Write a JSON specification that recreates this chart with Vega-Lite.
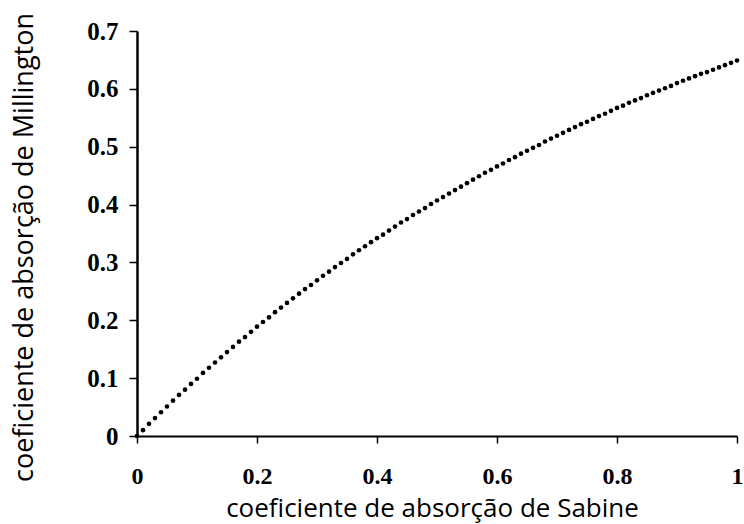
{
  "$schema": "https://vega.github.io/schema/vega-lite/v6.json",
  "autosize": {"type": "none"},
  "padding": {"left": 137, "top": 31, "right": 7, "bottom": 88},
  "width": 600,
  "height": 405,
  "background": "white",
  "config": {"view": {"stroke": null}},
  "data": {"values": [
    {"s": 0.00, "m": 0.000}, {"s": 0.01, "m": 0.010}, {"s": 0.02, "m": 0.021}, {"s": 0.03, "m": 0.031}, {"s": 0.04, "m": 0.041},
    {"s": 0.05, "m": 0.051}, {"s": 0.06, "m": 0.061}, {"s": 0.07, "m": 0.071}, {"s": 0.08, "m": 0.080}, {"s": 0.09, "m": 0.090},
    {"s": 0.10, "m": 0.099}, {"s": 0.11, "m": 0.109}, {"s": 0.12, "m": 0.118}, {"s": 0.13, "m": 0.127}, {"s": 0.14, "m": 0.136},
    {"s": 0.15, "m": 0.145}, {"s": 0.16, "m": 0.154}, {"s": 0.17, "m": 0.163}, {"s": 0.18, "m": 0.171}, {"s": 0.19, "m": 0.180},
    {"s": 0.20, "m": 0.189}, {"s": 0.21, "m": 0.197}, {"s": 0.22, "m": 0.205}, {"s": 0.23, "m": 0.214}, {"s": 0.24, "m": 0.222},
    {"s": 0.25, "m": 0.230}, {"s": 0.26, "m": 0.238}, {"s": 0.27, "m": 0.246}, {"s": 0.28, "m": 0.254}, {"s": 0.29, "m": 0.261},
    {"s": 0.30, "m": 0.269}, {"s": 0.31, "m": 0.277}, {"s": 0.32, "m": 0.284}, {"s": 0.33, "m": 0.292}, {"s": 0.34, "m": 0.299},
    {"s": 0.35, "m": 0.306}, {"s": 0.36, "m": 0.314}, {"s": 0.37, "m": 0.321}, {"s": 0.38, "m": 0.328}, {"s": 0.39, "m": 0.335},
    {"s": 0.40, "m": 0.342}, {"s": 0.41, "m": 0.348}, {"s": 0.42, "m": 0.355}, {"s": 0.43, "m": 0.362}, {"s": 0.44, "m": 0.369},
    {"s": 0.45, "m": 0.375}, {"s": 0.46, "m": 0.382}, {"s": 0.47, "m": 0.388}, {"s": 0.48, "m": 0.394}, {"s": 0.49, "m": 0.401},
    {"s": 0.50, "m": 0.407}, {"s": 0.51, "m": 0.413}, {"s": 0.52, "m": 0.419}, {"s": 0.53, "m": 0.425}, {"s": 0.54, "m": 0.431},
    {"s": 0.55, "m": 0.437}, {"s": 0.56, "m": 0.443}, {"s": 0.57, "m": 0.449}, {"s": 0.58, "m": 0.455}, {"s": 0.59, "m": 0.460},
    {"s": 0.60, "m": 0.466}, {"s": 0.61, "m": 0.471}, {"s": 0.62, "m": 0.477}, {"s": 0.63, "m": 0.482}, {"s": 0.64, "m": 0.488},
    {"s": 0.65, "m": 0.493}, {"s": 0.66, "m": 0.498}, {"s": 0.67, "m": 0.503}, {"s": 0.68, "m": 0.509}, {"s": 0.69, "m": 0.514},
    {"s": 0.70, "m": 0.519}, {"s": 0.71, "m": 0.524}, {"s": 0.72, "m": 0.529}, {"s": 0.73, "m": 0.534}, {"s": 0.74, "m": 0.539},
    {"s": 0.75, "m": 0.543}, {"s": 0.76, "m": 0.548}, {"s": 0.77, "m": 0.553}, {"s": 0.78, "m": 0.557}, {"s": 0.79, "m": 0.562},
    {"s": 0.80, "m": 0.567}, {"s": 0.81, "m": 0.571}, {"s": 0.82, "m": 0.576}, {"s": 0.83, "m": 0.580}, {"s": 0.84, "m": 0.584},
    {"s": 0.85, "m": 0.589}, {"s": 0.86, "m": 0.593}, {"s": 0.87, "m": 0.597}, {"s": 0.88, "m": 0.601}, {"s": 0.89, "m": 0.605},
    {"s": 0.90, "m": 0.610}, {"s": 0.91, "m": 0.614}, {"s": 0.92, "m": 0.618}, {"s": 0.93, "m": 0.622}, {"s": 0.94, "m": 0.626},
    {"s": 0.95, "m": 0.629}, {"s": 0.96, "m": 0.633}, {"s": 0.97, "m": 0.637}, {"s": 0.98, "m": 0.641}, {"s": 0.99, "m": 0.645},
    {"s": 1.00, "m": 0.649}
  ]},
  "mark": {"type": "circle", "color": "black", "opacity": 1, "size": 22},
  "encoding": {
    "x": {
      "field": "s", "type": "quantitative",
      "scale": {"domain": [0, 1], "nice": false, "zero": false},
      "axis": {
        "values": [0, 0.2, 0.4, 0.6, 0.8, 1],
        "format": ".1~f",
        "grid": false,
        "domainColor": "black", "domainWidth": 2,
        "tickColor": "black", "tickWidth": 1.5, "tickSize": 7,
        "labelFont": "Liberation Serif", "labelFontWeight": "bold", "labelFontSize": 24, "labelColor": "black",
        "labelPadding": 21, "labelFlush": false,
        "title": "coeficiente de absorção de Sabine",
        "titleFont": "Open Sans", "titleFontWeight": 500, "titleFontSize": 26, "titleColor": "black",
        "titleBaseline": "alphabetic", "titleAnchor": "middle",
        "titleX": 295, "titleY": 80
      }
    },
    "y": {
      "field": "m", "type": "quantitative",
      "scale": {"domain": [0, 0.7], "nice": false, "zero": false},
      "axis": {
        "values": [0, 0.1, 0.2, 0.3, 0.4, 0.5, 0.6, 0.7],
        "format": ".1~f",
        "grid": false,
        "domainColor": "black", "domainWidth": 2.5,
        "tickColor": "black", "tickWidth": 1.5, "tickSize": 8,
        "labelFont": "Liberation Serif", "labelFontWeight": "bold", "labelFontSize": 25, "labelColor": "black",
        "labelPadding": 11, "labelFlush": false,
        "title": "coeficiente de absorção de Millington",
        "titleFont": "Open Sans", "titleFontWeight": 500, "titleFontSize": 27, "titleColor": "black",
        "titleAngle": 270, "titleBaseline": "alphabetic", "titleAnchor": "middle",
        "titleX": -105, "titleY": 216
      }
    }
  }
}
